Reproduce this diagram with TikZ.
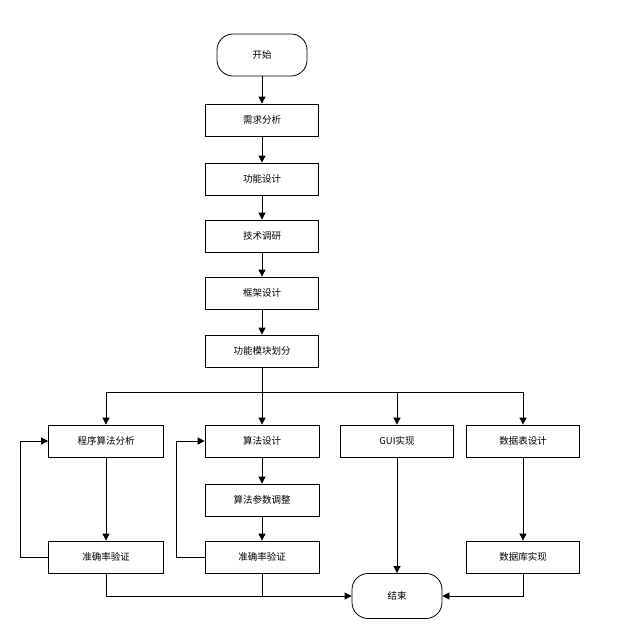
\documentclass[tikz,border=0pt]{standalone}
\usepackage{fontspec}
\setmainfont{Noto Sans CJK SC}
\usetikzlibrary{arrows.meta,positioning,shapes}
\tikzset{
    recwht/.style={draw,thick,minimum width=113pt,minimum height=32pt,align=center,fill=white,font=\fontsize{9.5}{11}\selectfont},
    rndwht/.style={draw,thick,rounded corners=16pt,minimum width=90pt,minimum height=42pt,align=center,fill=white,font=\fontsize{9.5}{11}\selectfont},
    line/.style={thick},
    arrowfwd/.style={thick,-{Triangle[length=7pt,width=7pt]}}
}
\begin{document}
\begin{tikzpicture}[x=1pt,y=-1pt]
        \useasboundingbox[fill=white] (0,0) rectangle (640,630);
        \node[rndwht] (start) at (262,55) {开始};
        \node[recwht] (xqfx) at (262,120) {需求分析};
        \node[recwht] (gnsj) at (262,179) {功能设计};
        \node[recwht] (jsdy) at (262,236) {技术调研};
        \node[recwht] (kjsj) at (262,293) {框架设计};
        \node[recwht] (mkhf) at (262,351) {功能模块划分};

        \node[recwht,minimum width=115pt] (cxfx) at (106,441) {程序算法分析};
        \node[recwht,minimum width=114pt] (sfsj) at (262,441) {算法设计};
        \node[recwht] (gui) at (397,441) {GUI实现};
        \node[recwht] (sjbsj) at (523,441) {数据表设计};
        \node[recwht,minimum width=114pt] (cstz) at (262,500) {算法参数调整};
        \node[recwht,minimum width=115pt] (yz1) at (106,557) {准确率验证};
        \node[recwht,minimum width=114pt] (yz2) at (262,557) {准确率验证};
        \node[recwht] (sjksx) at (523,557) {数据库实现};
        \node[rndwht,minimum height=45pt] (end) at (397,596) {结束};

        \coordinate (bus) at (262,392);
        \coordinate (busl) at (106,392);
        \coordinate (busr) at (523,392);
        \coordinate (gbus) at (397,392);
        \coordinate (loop1) at (20,0);
        \coordinate (loop2) at (176,0);
        \coordinate (join) at (262,596);

        \begin{scope}
            \draw[arrowfwd] (start) -- (xqfx);
            \draw[arrowfwd] (xqfx) -- (gnsj);
            \draw[arrowfwd] (gnsj) -- (jsdy);
            \draw[arrowfwd] (jsdy) -- (kjsj);
            \draw[arrowfwd] (kjsj) -- (mkhf);
            \draw[line] (mkhf) -- (bus);
            \draw[line] (busl) -- (busr);
            \draw[arrowfwd] (busl) -- (cxfx);
            \draw[arrowfwd] (bus) -- (sfsj);
            \draw[arrowfwd] (gbus) -- (gui);
            \draw[arrowfwd] (busr) -- (sjbsj);
            \draw[arrowfwd] (cxfx) -- (yz1);
            \draw[arrowfwd] (sfsj) -- (cstz);
            \draw[arrowfwd] (cstz) -- (yz2);
            \draw[arrowfwd] (sjbsj) -- (sjksx);
            \draw[arrowfwd] (yz1.west) -| (loop1 |- yz1) |- (cxfx.west);
            \draw[arrowfwd] (yz2.west) -| (loop2 |- yz2) |- (sfsj.west);
            \draw[arrowfwd] (yz1.south) |- (end.west);
            \draw[line] (yz2.south) -- (join);
            \draw[arrowfwd] (gui) -- (end);
            \draw[arrowfwd] (sjksx.south) |- (end.east);
        \end{scope}
\end{tikzpicture}
\end{document}
